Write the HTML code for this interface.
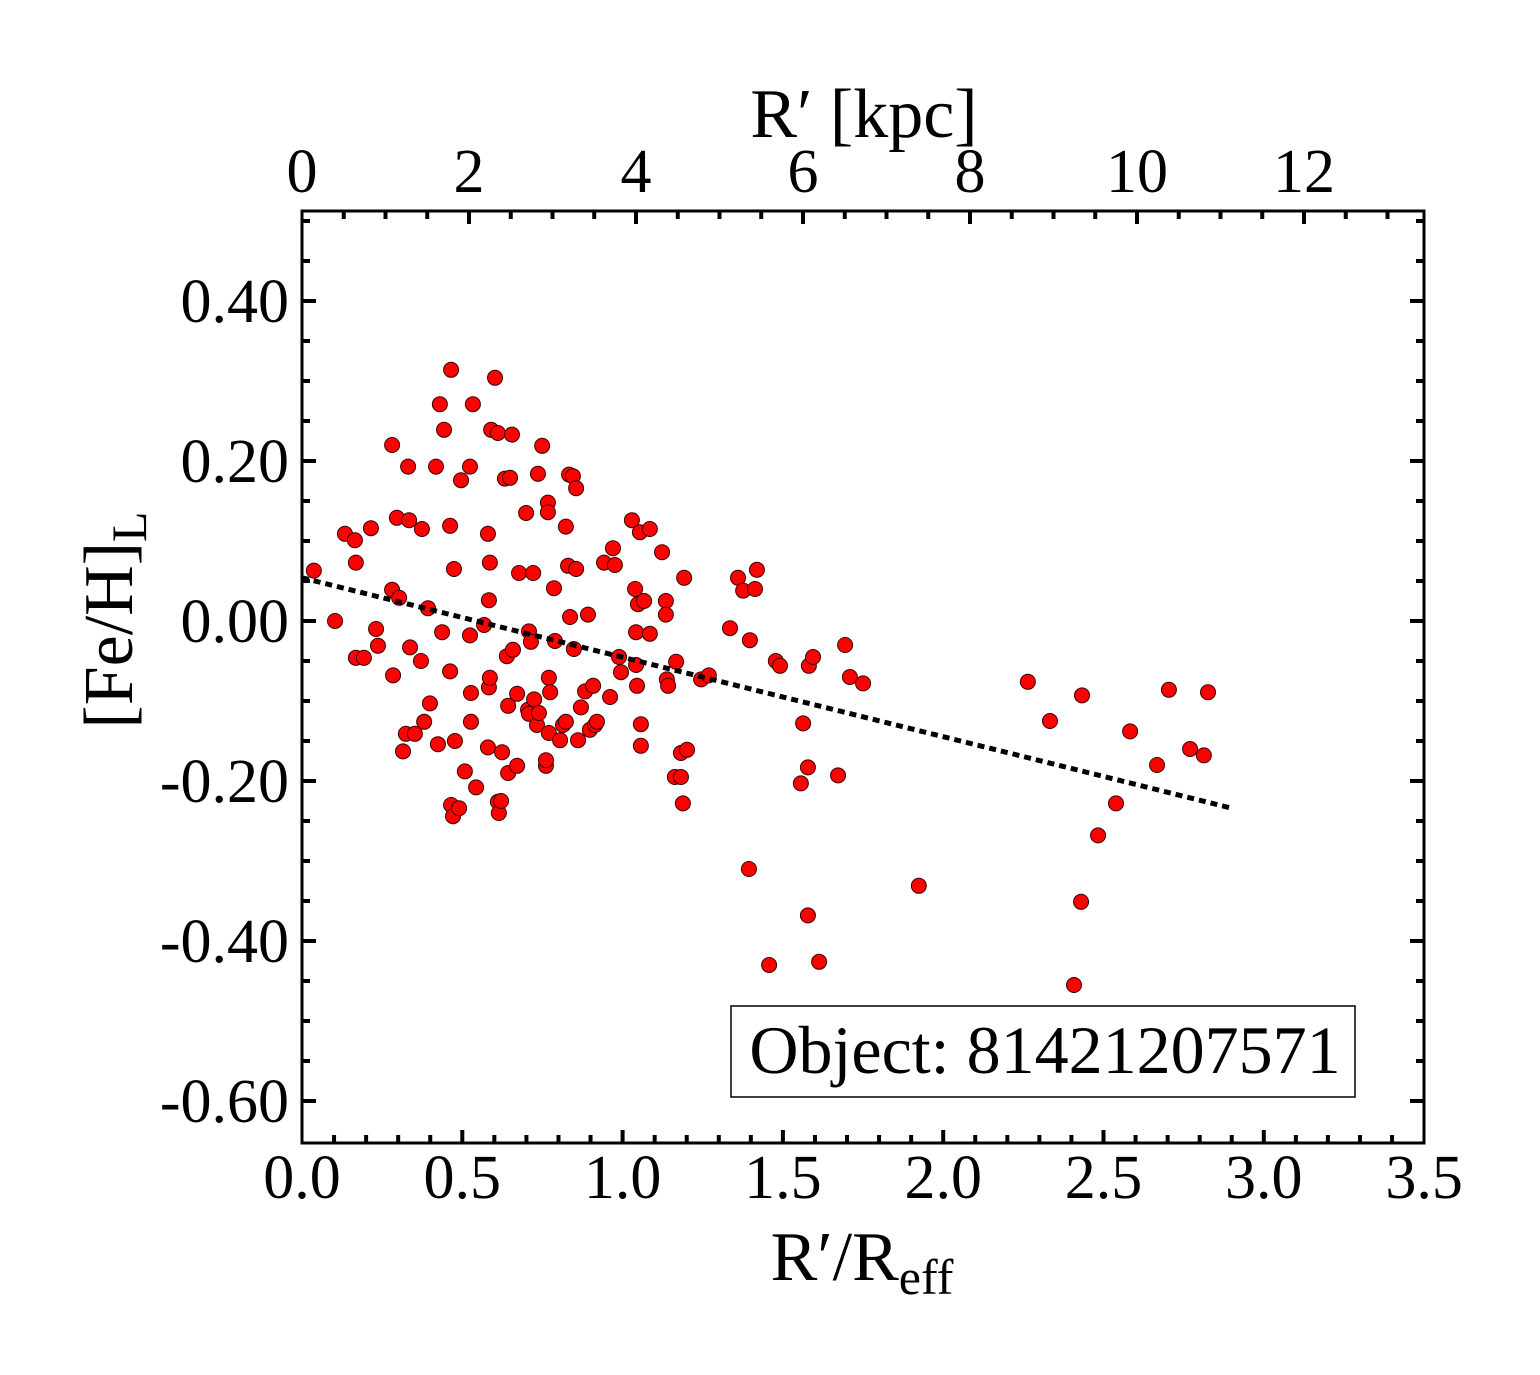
<!DOCTYPE html>
<html><head><meta charset="utf-8"><style>
html,body{margin:0;padding:0;background:#fff;}
svg{display:block;font-family:"Liberation Serif",serif;}
</style></head><body>
<svg id="chart" width="1540" height="1375" viewBox="0 0 1540 1375" xmlns="http://www.w3.org/2000/svg">
<g id="ticks"></g>
<g id="labels" font-size="62" fill="#000"></g>
<g id="pts"></g>
<line id="fit" stroke="#000" stroke-width="5" stroke-dasharray="7,5"/>
<rect x="302" y="211" width="1122" height="932" fill="none" stroke="#000" stroke-width="3"/>
<text x="864" y="137" font-size="70" text-anchor="middle">R′ [kpc]</text>
<text x="862" y="1280" font-size="70" text-anchor="middle">R′/R<tspan font-size="50" dy="14">eff</tspan></text>
<text transform="translate(132,620) rotate(-90)" font-size="70" text-anchor="middle">[Fe/H]<tspan font-size="50" dy="14">L</tspan></text>
<g>
<rect x="731" y="1006" width="624" height="91" fill="#fff" stroke="#000" stroke-width="1.5"/>
<text x="1045" y="1073" font-size="68" text-anchor="middle">Object: 81421207571</text>
</g>
</svg>
<script>
const xValues=[0.037,0.103,0.134,0.165,0.168,0.168,0.193,0.215,0.231,0.237,0.281,0.281,0.284,0.296,0.303,0.315,0.324,0.331,0.334,0.337,0.352,0.371,0.374,0.381,0.393,0.399,0.418,0.424,0.430,0.437,0.443,0.462,0.462,0.465,0.474,0.465,0.471,0.477,0.490,0.496,0.508,0.524,0.524,0.527,0.527,0.533,0.543,0.568,0.580,0.580,0.583,0.583,0.586,0.586,0.590,0.602,0.611,0.611,0.614,0.621,0.624,0.633,0.639,0.643,0.643,0.649,0.655,0.658,0.671,0.671,0.677,0.699,0.705,0.708,0.708,0.714,0.721,0.724,0.733,0.736,0.739,0.749,0.761,0.761,0.767,0.767,0.770,0.774,0.770,0.786,0.789,0.805,0.814,0.823,0.823,0.830,0.833,0.836,0.845,0.848,0.855,0.855,0.861,0.870,0.883,0.892,0.898,0.908,0.914,0.920,0.942,0.961,0.970,0.976,0.989,0.995,1.029,1.039,1.042,1.042,1.045,1.048,1.054,1.057,1.057,1.067,1.085,1.085,1.123,1.135,1.135,1.138,1.142,1.163,1.167,1.182,1.182,1.188,1.192,1.201,1.245,1.269,1.335,1.360,1.376,1.397,1.413,1.419,1.394,1.457,1.478,1.491,1.556,1.563,1.578,1.578,1.581,1.594,1.613,1.672,1.709,1.750,1.694,1.924,2.264,2.333,2.430,2.433,2.483,2.408,2.539,2.583,2.667,2.704,2.770,2.813,2.826];
const yValues=[0.063,0,0.109,0.101,0.073,-0.046,-0.046,0.116,-0.010,-0.031,0.220,0.039,-0.068,0.129,0.029,-0.163,-0.141,0.193,0.126,-0.033,-0.141,-0.050,0.115,-0.126,0.016,-0.103,0.193,-0.154,0.271,-0.014,0.239,0.119,-0.063,0.314,0.065,-0.230,-0.244,-0.150,-0.234,0.176,-0.188,0.193,-0.018,-0.090,-0.126,0.271,-0.208,-0.005,0.109,-0.158,0.026,-0.083,-0.071,0.073,0.239,0.304,0.235,-0.226,-0.240,-0.225,-0.164,0.178,-0.044,-0.106,-0.190,0.179,0.233,-0.036,-0.091,-0.181,0.060,0.135,-0.111,-0.013,-0.116,-0.026,0.060,-0.098,-0.130,0.184,-0.115,0.219,-0.181,-0.174,0.148,0.136,-0.071,-0.089,-0.140,0.041,-0.025,-0.149,-0.130,0.118,-0.126,0.069,0.183,0.005,0.181,-0.035,0.065,0.166,-0.149,-0.108,-0.088,0.008,-0.136,-0.081,-0.130,-0.126,0.073,-0.095,0.091,0.070,-0.045,-0.064,0.126,0.040,-0.014,-0.055,-0.081,0.021,0.111,-0.129,-0.156,0.025,0.115,-0.016,0.086,0.025,0.008,-0.073,-0.081,-0.195,-0.051,-0.195,-0.165,-0.228,0.054,-0.161,-0.073,-0.068,-0.009,0.054,0.038,-0.024,0.040,0.064,-0.310,-0.430,-0.050,-0.056,-0.203,-0.128,-0.183,-0.368,-0.056,-0.045,-0.426,-0.193,-0.070,-0.078,-0.030,-0.331,-0.076,-0.125,-0.351,-0.093,-0.268,-0.455,-0.228,-0.138,-0.180,-0.086,-0.160,-0.168,-0.089];
const fitX=[0,2.9];
const fitY=[0.054,-0.234];
const xTicks=["0.0","0.5","1.0","1.5","2.0","2.5","3.0","3.5"];
const yTicks=["0.40","0.20","0.00","-0.20","-0.40","-0.60"];
const kpcTicks=["0","2","4","6","8","10","12"];

const L=302,R=1424,T=211,B=1143;
const sx=v=>L+v*320.6;
const sy=v=>621-v*800;
const sk=v=>L+v*83.5;
const NS="http://www.w3.org/2000/svg";
function mk(tag,attrs,parent){const e=document.createElementNS(NS,tag);for(const k in attrs)e.setAttribute(k,attrs[k]);parent.appendChild(e);return e;}
const tg=document.getElementById('ticks'),lg=document.getElementById('labels'),pg=document.getElementById('pts');
function tick(x1,y1,x2,y2,w){const t=mk('line',{x1:x1,y1:y1,x2:x2,y2:y2,stroke:'#000','stroke-width':w},tg);

}
for(let i=1;i<35;i++){const x=sx(i*0.1);const maj=i%5===0;tick(x,B,x,B-(maj?13:8),4);}
for(let i=1;i*0.5*83.5<R-L;i++){const x=sk(i*0.5);const maj=i%4===0;tick(x,T,x,T+(maj?13:8),4);}
for(let v=-0.65;v<=0.5;v+=0.05){const y=sy(v);if(y<=T+2||y>=B-2)continue;const maj=Math.abs(Math.round(v*100))%20===0;
tick(L,y,L+(maj?14:8),y,4);tick(R,y,R-(maj?14:8),y,4);}
xTicks.forEach((s,i)=>{const t=mk('text',{x:sx(parseFloat(s)),y:1198,'text-anchor':'middle'},lg);t.textContent=s;

});
yTicks.forEach(s=>{const t=mk('text',{x:289,y:sy(parseFloat(s))+21,'text-anchor':'end'},lg);t.textContent=s;

});
kpcTicks.forEach(s=>{const t=mk('text',{x:sk(parseFloat(s)),y:192,'text-anchor':'middle'},lg);t.textContent=s;

});
xValues.forEach((xv,i)=>{const c=mk('circle',{cx:sx(xv),cy:sy(yValues[i]),r:7.5,fill:'#ff0000',stroke:'#3a0000','stroke-width':1},pg);

});
const f=document.getElementById('fit');
f.setAttribute('x1',sx(fitX[0]));f.setAttribute('y1',sy(fitY[0]));
f.setAttribute('x2',sx(fitX[1]));f.setAttribute('y2',sy(fitY[1]));
</script>
</body></html>
